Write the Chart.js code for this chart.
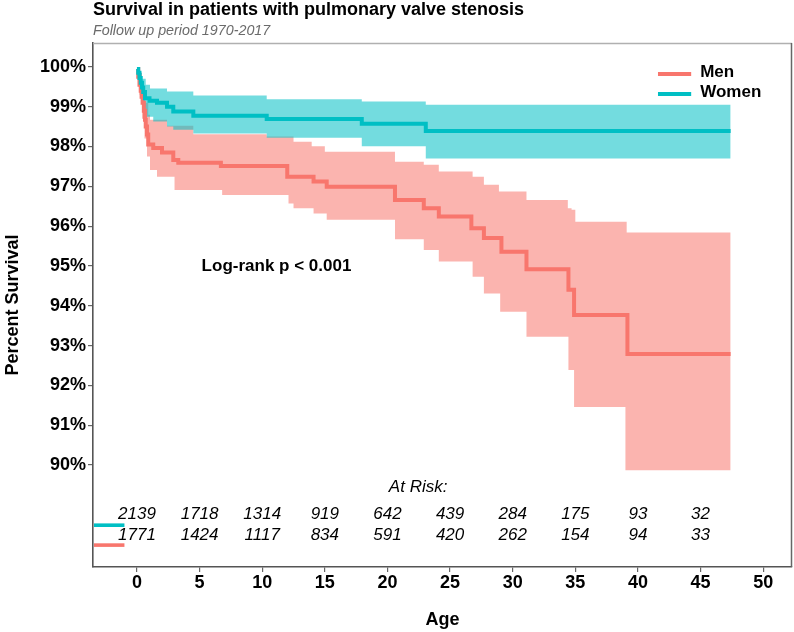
<!DOCTYPE html>
<html>
<head>
<meta charset="utf-8">
<script src="https://cdn.jsdelivr.net/npm/chart.js@4.4.1/dist/chart.umd.min.js"></script>
<style>
html,body{margin:0;padding:0;background:#fff;}
#wrap{width:794px;height:632px;position:relative;}
canvas{display:block;}
</style>
</head>
<body>
<div id="wrap"><canvas id="c" width="794" height="632"></canvas></div>
<script>
const FONT = '"Liberation Sans", Arial, Helvetica, sans-serif';

// ---- Data ----
const womenTime = [0, 0.1, 0.2, 0.3, 0.4, 0.5, 0.64, 1.0, 1.6, 2.4, 2.9, 4.5, 10.36, 17.95, 23.06, 47.4];
const womenSurv = [99.95, 99.85, 99.72, 99.6, 99.48, 99.37, 99.21, 99.15, 99.1, 99.0, 98.88, 98.77, 98.69, 98.57, 98.39, 98.39];

const womenUpperTime = [0, 0.2, 0.4, 0.7, 1.04, 2.4, 4.5, 10.36, 17.95, 23.06, 47.4];
const womenUpper = [100, 99.85, 99.7, 99.55, 99.46, 99.38, 99.28, 99.19, 99.13, 99.05, 99.05];

const womenLowerTime = [0, 0.15, 0.3, 0.5, 0.7, 1.3, 2.4, 2.9, 4.5, 10.36, 17.95, 23.06, 47.4];
const womenLower = [99.85, 99.55, 99.25, 98.95, 98.75, 98.63, 98.5, 98.42, 98.33, 98.22, 98.01, 97.7, 97.7];

const menTime = [0, 0.1, 0.2, 0.3, 0.37, 0.45, 0.55, 0.64, 0.7, 0.8, 0.9, 1.3, 2.0, 2.9, 3.3, 6.7, 12.0, 14.1, 15.15, 20.6, 22.9, 24.1, 26.7, 27.7, 29.1, 31.1, 34.45, 34.9, 39.16, 47.4];
const menSurv = [99.95, 99.75, 99.55, 99.4, 99.25, 99.1, 98.9, 98.67, 98.5, 98.3, 98.05, 97.96, 97.85, 97.66, 97.59, 97.51, 97.24, 97.12, 96.99, 96.66, 96.45, 96.24, 95.95, 95.70, 95.36, 94.92, 94.40, 93.77, 92.79, 92.79];

const menUpperTime = [0, 0.2, 0.4, 0.64, 0.9, 1.04, 2.4, 4.5, 10.36, 12.5, 13.95, 15.0, 20.6, 22.9, 24.1, 26.8, 27.7, 28.9, 31.1, 34.4, 34.7, 35.0, 39.1, 47.4];
const menUpper = [100, 99.85, 99.5, 99.1, 98.8, 98.67, 98.52, 98.31, 98.25, 98.12, 98.01, 97.87, 97.62, 97.54, 97.37, 97.24, 97.04, 96.87, 96.66, 96.45, 96.41, 96.11, 95.84, 95.84];

const menLowerTime = [0, 0.2, 0.4, 0.6, 0.8, 1.04, 1.6, 3.0, 6.8, 12.1, 12.5, 14.1, 15.15, 20.6, 22.9, 24.1, 26.8, 27.7, 29.0, 31.1, 34.45, 34.9, 39.0, 47.4];
const menLower = [99.9, 99.3, 98.7, 98.2, 97.75, 97.41, 97.24, 96.91, 96.78, 96.57, 96.45, 96.32, 96.16, 95.67, 95.40, 95.11, 94.73, 94.31, 93.85, 93.22, 92.39, 91.46, 89.87, 89.87];

const riskTimes = [0, 5, 10, 15, 20, 25, 30, 35, 40, 45];
const womenRisk = [2139, 1718, 1314, 919, 642, 439, 284, 175, 93, 32];
const menRisk = [1771, 1424, 1117, 834, 591, 420, 262, 154, 94, 33];

const xTicks = [0, 5, 10, 15, 20, 25, 30, 35, 40, 45, 50];
const yTicks = [90, 91, 92, 93, 94, 95, 96, 97, 98, 99, 100];

const seriesLabels = ['Men', 'Women'];
const titleText = 'Survival in patients with pulmonary valve stenosis';
const subtitleText = 'Follow up period 1970-2017';
const pText = 'Log-rank p < 0.001';

const TEAL = '#00BFC4', RED = '#F8766D';
const TEAL_FILL = 'rgba(0,191,196,0.55)', RED_FILL = 'rgba(248,118,109,0.55)';

const toXY = (t, v) => t.map((x, i) => ({x: x, y: v[i]}));

const lineDS = (label, t, v, color) => ({
  label, data: toXY(t, v), borderColor: color, borderWidth: 4,
  stepped: true, pointRadius: 0, fill: false, tension: 0
});
const bandDS = (label, t, v, fill, bg) => ({
  label, data: toXY(t, v), borderWidth: 0, borderColor: 'rgba(0,0,0,0)',
  stepped: true, pointRadius: 0, fill: fill, backgroundColor: bg, tension: 0
});

const overlay = {
  id: 'overlay',
  afterDraw(chart) {
    const ctx = chart.ctx, ca = chart.chartArea;
    const xs = chart.scales.x, ys = chart.scales.y;
    ctx.save();
    // top / right panel border
    ctx.strokeStyle = '#b0b0b0';
    ctx.lineWidth = 1.5;
    ctx.beginPath();
    ctx.moveTo(ca.left, ca.top + 0.5);
    ctx.lineTo(ca.right, ca.top + 0.5);
    ctx.stroke();
    ctx.strokeStyle = '#666';
    ctx.beginPath();
    ctx.moveTo(ca.right - 0.5, ca.top);
    ctx.lineTo(ca.right - 0.5, ca.bottom);
    ctx.stroke();

    // title + subtitle
    ctx.fillStyle = '#000';
    ctx.textAlign = 'left';
    ctx.textBaseline = 'alphabetic';
    ctx.font = 'bold 18px ' + FONT;
    ctx.fillText(titleText, ca.left, 15);
    ctx.fillStyle = '#6b6b6b';
    ctx.font = 'italic 14.3px ' + FONT;
    ctx.fillText(subtitleText, ca.left, 35);

    // axis titles
    ctx.fillStyle = '#000';
    ctx.font = 'bold 18px ' + FONT;
    ctx.textAlign = 'center';
    ctx.textBaseline = 'middle';
    ctx.fillText('Age', (ca.left + ca.right) / 2, 620);
    ctx.save();
    ctx.translate(13, (ca.top + ca.bottom) / 2);
    ctx.rotate(-Math.PI / 2);
    ctx.fillText('Percent Survival', 0, 0);
    ctx.restore();

    // log-rank text
    ctx.font = 'bold 17px ' + FONT;
    ctx.fillText(pText, xs.getPixelForValue(11.14), ys.getPixelForValue(95.0));

    // legend (inside panel, top right)
    const legY = [99.82, 99.32];
    const legCol = [RED, TEAL];
    ctx.lineWidth = 4;
    ctx.textAlign = 'left';
    ctx.font = 'bold 17px ' + FONT;
    for (let i = 0; i < 2; i++) {
      const y = ys.getPixelForValue(legY[i]);
      ctx.strokeStyle = legCol[i];
      ctx.beginPath();
      ctx.moveTo(xs.getPixelForValue(41.6), y);
      ctx.lineTo(xs.getPixelForValue(44.25), y);
      ctx.stroke();
      ctx.fillStyle = '#000';
      ctx.fillText(seriesLabels[i], xs.getPixelForValue(44.97), y - 1.5);
    }

    // at-risk table
    ctx.font = 'italic 17px ' + FONT;
    ctx.textAlign = 'center';
    ctx.fillStyle = '#000';
    ctx.fillText('At Risk:', xs.getPixelForValue(22.45), ys.getPixelForValue(89.45));
    const yW = ys.getPixelForValue(88.77), yM = ys.getPixelForValue(88.24);
    riskTimes.forEach((t, i) => {
      const x = xs.getPixelForValue(t);
      ctx.fillText(String(womenRisk[i]), x, yW);
      ctx.fillText(String(menRisk[i]), x, yM);
    });
    // group markers in the table
    const mark = [[88.49, TEAL], [87.99, RED]];
    mark.forEach(m => {
      const y = ys.getPixelForValue(m[0]);
      ctx.strokeStyle = m[1];
      ctx.lineWidth = 3.6;
      ctx.beginPath();
      ctx.moveTo(ca.left + 1, y);
      ctx.lineTo(xs.getPixelForValue(-1.0), y);
      ctx.stroke();
    });
    ctx.restore();
  }
};

new Chart(document.getElementById('c').getContext('2d'), {
  type: 'line',
  data: {
    datasets: [
      lineDS('Women', womenTime, womenSurv, TEAL),
      lineDS('Men', menTime, menSurv, RED),
      bandDS('Women upper', womenUpperTime, womenUpper, '+1', TEAL_FILL),
      bandDS('Women lower', womenLowerTime, womenLower, false, TEAL_FILL),
      bandDS('Men upper', menUpperTime, menUpper, '+1', RED_FILL),
      bandDS('Men lower', menLowerTime, menLower, false, RED_FILL)
    ]
  },
  options: {
    responsive: false,
    animation: false,
    devicePixelRatio: 1,
    layout: {padding: {left: 0, right: 2, top: 43, bottom: 0}},
    plugins: {legend: {display: false}, tooltip: {enabled: false}, filler: {propagate: false}},
    scales: {
      x: {
        type: 'linear', min: -3.51, max: 52.3,
        afterBuildTicks: s => { s.ticks = xTicks.map(v => ({value: v})); },
        afterFit: s => { s.height = 65; },
        grid: {drawOnChartArea: false, drawTicks: true, tickLength: 5, color: '#666', lineWidth: 1.2},
        border: {color: '#555', width: 1.6},
        ticks: {font: {family: FONT, size: 18, weight: 'bold'}, color: '#000', padding: 0, maxRotation: 0, autoSkip: false}
      },
      y: {
        type: 'linear', min: 87.44, max: 100.6,
        afterBuildTicks: s => { s.ticks = yTicks.map(v => ({value: v})); },
        afterFit: s => { s.width = 93; },
        grid: {drawOnChartArea: false, drawTicks: true, tickLength: 5, color: '#666', lineWidth: 1.2},
        border: {color: '#555', width: 1.6},
        ticks: {font: {family: FONT, size: 18, weight: 'bold'}, color: '#000', padding: 2, autoSkip: false,
                callback: v => v + '%'}
      }
    }
  },
  plugins: [overlay]
});
</script>
</body>
</html>
